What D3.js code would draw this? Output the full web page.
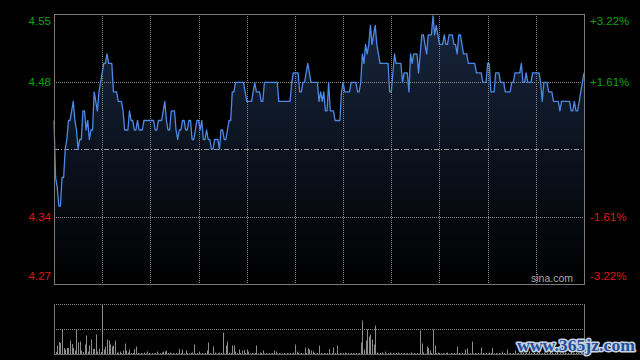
<!DOCTYPE html>
<html>
<head>
<meta charset="utf-8">
<script src="https://cdn.jsdelivr.net/npm/d3@7"></script>
<style>
  html, body { margin: 0; padding: 0; background: #000; }
  svg { display: block; }
</style>
</head>
<body>
<div id="chart"></div>
<script>
// previous close and the percent steps shown on the axes
var prevClose = 4.41;
var pctSteps = [2, 1, -1, -2];
var priceTicks = ["4.55", "4.48", "4.34", "4.27"];
var pctTicks = ["+3.22%", "+1.61%", "-1.61%", "-3.22%"];

// one price per minute, 09:30-12:00 and 13:00-16:00
var prices = [
  4.44, 4.38, 4.37, 4.35, 4.35, 4.38, 4.38, 4.41, 4.42, 4.44,
  4.44, 4.45, 4.46, 4.44, 4.43, 4.41, 4.42, 4.42, 4.45, 4.45,
  4.43, 4.44, 4.42, 4.43, 4.43, 4.47, 4.46, 4.45, 4.47, 4.48,
  4.49, 4.50, 4.50, 4.51, 4.50, 4.50, 4.50, 4.47, 4.47, 4.47,
  4.46, 4.46, 4.46, 4.45, 4.43, 4.43, 4.43, 4.45, 4.44, 4.44,
  4.43, 4.43, 4.44, 4.43, 4.43, 4.43, 4.44, 4.44, 4.44, 4.44,
  4.44, 4.44, 4.44, 4.43, 4.43, 4.44, 4.44, 4.44, 4.45, 4.46,
  4.44, 4.43, 4.43, 4.45, 4.45, 4.45, 4.43, 4.42, 4.43, 4.43,
  4.44, 4.44, 4.43, 4.43, 4.44, 4.44, 4.42, 4.42, 4.43, 4.44,
  4.44, 4.43, 4.44, 4.42, 4.42, 4.43, 4.42, 4.42, 4.41, 4.41,
  4.42, 4.42, 4.42, 4.41, 4.43, 4.43, 4.42, 4.42, 4.43, 4.44,
  4.44, 4.47, 4.47, 4.48, 4.48, 4.48, 4.48, 4.48, 4.48, 4.47,
  4.46, 4.46, 4.46, 4.46, 4.47, 4.48, 4.47, 4.47, 4.47, 4.46,
  4.46, 4.48, 4.48, 4.48, 4.48, 4.48, 4.48, 4.48, 4.48, 4.48,
  4.46, 4.46, 4.46, 4.46, 4.46, 4.46, 4.46, 4.46, 4.48, 4.49,
  4.49, 4.49, 4.49, 4.47, 4.47, 4.48, 4.48, 4.49, 4.50, 4.49,
  4.48, 4.48, 4.48, 4.48, 4.48, 4.46, 4.47, 4.46, 4.47, 4.45,
  4.45, 4.48, 4.45, 4.45, 4.45, 4.44, 4.44, 4.44, 4.44, 4.47,
  4.48, 4.47, 4.47, 4.47, 4.47, 4.48, 4.48, 4.48, 4.48, 4.47,
  4.47, 4.48, 4.51, 4.50, 4.52, 4.51, 4.52, 4.54, 4.52, 4.53,
  4.54, 4.52, 4.51, 4.50, 4.50, 4.50, 4.50, 4.50, 4.50, 4.47,
  4.47, 4.49, 4.51, 4.50, 4.50, 4.50, 4.50, 4.48, 4.49, 4.49,
  4.49, 4.47, 4.51, 4.50, 4.51, 4.51, 4.51, 4.49, 4.51, 4.53,
  4.53, 4.52, 4.51, 4.53, 4.53, 4.53, 4.55, 4.53, 4.54, 4.53,
  4.52, 4.52, 4.52, 4.53, 4.52, 4.52, 4.53, 4.53, 4.53, 4.52,
  4.52, 4.51, 4.53, 4.53, 4.52, 4.51, 4.51, 4.51, 4.50, 4.50,
  4.50, 4.50, 4.50, 4.49, 4.49, 4.49, 4.49, 4.48, 4.48, 4.48,
  4.50, 4.50, 4.47, 4.47, 4.47, 4.49, 4.49, 4.49, 4.48, 4.48,
  4.48, 4.47, 4.47, 4.47, 4.47, 4.48, 4.48, 4.49, 4.49, 4.49,
  4.49, 4.50, 4.48, 4.48, 4.49, 4.48, 4.48, 4.48, 4.49, 4.49,
  4.49, 4.49, 4.49, 4.48, 4.46, 4.48, 4.48, 4.48, 4.47, 4.47,
  4.47, 4.46, 4.46, 4.46, 4.46, 4.45, 4.46, 4.46, 4.46, 4.46,
  4.46, 4.46, 4.45, 4.45, 4.46, 4.45, 4.45, 4.46, 4.47, 4.48,
  4.49
];

// volume per minute (relative units)
var volumes = [
  100, 4, 17, 24, 22, 50, 12, 9, 12, 12,
  27, 20, 12, 7, 50, 23, 25, 7, 4, 19,
  37, 5, 17, 29, 10, 10, 39, 5, 10, 4,
  98, 9, 15, 29, 27, 19, 15, 17, 27, 3,
  3, 5, 2, 7, 21, 7, 3, 9, 2, 2,
  10, 15, 2, 1, 2, 1, 3, 1, 5, 2,
  1, 2, 1, 2, 5, 1, 2, 3, 5, 5,
  7, 2, 3, 1, 2, 1, 2, 1, 10, 2,
  9, 1, 7, 2, 1, 2, 3, 19, 1, 2,
  5, 1, 2, 1, 2, 7, 23, 2, 1, 15,
  3, 1, 2, 3, 2, 43, 1, 17, 25, 3,
  2, 17, 17, 5, 2, 9, 2, 7, 8, 2,
  9, 5, 1, 2, 1, 2, 17, 1, 3, 2,
  7, 1, 2, 1, 2, 1, 2, 7, 5, 1,
  2, 1, 1, 2, 1, 2, 1, 2, 1, 3,
  19, 5, 2, 1, 2, 1, 13, 2, 12, 9,
  7, 5, 2, 1, 2, 17, 2, 1, 2, 1,
  2, 10, 1, 2, 13, 2, 17, 1, 2, 1,
  2, 3, 1, 2, 1, 2, 2, 1, 2, 1,
  2, 23, 67, 9, 27, 49, 35, 39, 29, 19,
  57, 3, 1, 2, 3, 1, 5, 1, 2, 3,
  1, 2, 1, 2, 3, 1, 2, 1, 2, 1,
  2, 1, 3, 1, 2, 1, 2, 1, 47, 21,
  3, 1, 15, 12, 7, 2, 49, 17, 2, 3,
  2, 1, 2, 1, 2, 3, 1, 2, 1, 2,
  1, 15, 2, 1, 2, 1, 9, 11, 1, 2,
  25, 1, 2, 1, 2, 1, 13, 2, 1, 2,
  1, 3, 2, 12, 1, 2, 1, 2, 1, 5,
  2, 1, 9, 1, 2, 1, 2, 7, 1, 2,
  1, 2, 3, 1, 2, 1, 6, 2, 1, 2,
  1, 2, 5, 1, 2, 3, 1, 2, 1, 4,
  2, 1, 2, 5, 1, 2, 1, 2, 3, 1,
  2, 1, 4, 2, 1, 3, 2, 1, 5, 3,
  8
];

var W = 640, H = 360;
var plotL = 54, plotR = 584, plotT = 14, plotB = 284;
var volT = 304, volB = 354;
var font = "'Liberation Sans', Arial, sans-serif";
var green = "#0ea30e", red = "#e01414";

var svg = d3.select("#chart").append("svg")
  .attr("width", W)
  .attr("height", H)
  .style("background", "#000");

var x = d3.scaleLinear().domain([0, 330]).range([plotL, plotR]);
var y = d3.scaleLinear()
  .domain([prevClose * (1 - 0.0322), prevClose * (1 + 0.0322)])
  .range([plotB, plotT]);
var yv = d3.scaleLinear().domain([0, d3.max(volumes)]).range([volB, volT]);

// gradient under the price line
var grad = svg.append("defs").append("linearGradient")
  .attr("id", "fill")
  .attr("gradientUnits", "userSpaceOnUse")
  .attr("x1", 0).attr("y1", plotT).attr("x2", 0).attr("y2", plotB);
grad.append("stop").attr("offset", "0%").attr("stop-color", "#18263f");
grad.append("stop").attr("offset", "100%").attr("stop-color", "#000000");

var area = d3.area()
  .x(function(d, i) { return x(i); })
  .y0(plotB)
  .y1(function(d) { return y(d); });

svg.append("path")
  .datum(prices)
  .attr("d", area)
  .attr("fill", "url(#fill)");

// vertical grid every 30 minutes
var gridX = d3.range(30, 330, 30);
svg.append("g")
  .selectAll("line")
  .data(gridX)
  .enter().append("line")
  .attr("x1", function(d) { return Math.round(x(d)) + 0.5; })
  .attr("x2", function(d) { return Math.round(x(d)) + 0.5; })
  .attr("y1", plotT).attr("y2", plotB)
  .attr("stroke", "#8a8a8a")
  .attr("stroke-dasharray", "1,1");

// horizontal grid at +-1.61%
svg.append("g")
  .selectAll("line")
  .data([1, -1])
  .enter().append("line")
  .attr("x1", plotL).attr("x2", plotR)
  .attr("y1", function(d) { return Math.round(y(prevClose * (1 + d * 0.0161))) + 0.5; })
  .attr("y2", function(d) { return Math.round(y(prevClose * (1 + d * 0.0161))) + 0.5; })
  .attr("stroke", "#8a8a8a")
  .attr("stroke-dasharray", "1,1");

// previous close line
svg.append("line")
  .attr("x1", plotL).attr("x2", plotR)
  .attr("y1", Math.round(y(prevClose)) + 0.5)
  .attr("y2", Math.round(y(prevClose)) + 0.5)
  .attr("stroke", "#9a9a9a")
  .attr("stroke-dasharray", "5,2,1,2");

// price line
var line = d3.line()
  .x(function(d, i) { return x(i); })
  .y(function(d) { return y(d); });

svg.append("path")
  .datum(prices)
  .attr("d", line)
  .attr("fill", "none")
  .attr("stroke", "#4d89e6")
  .attr("stroke-width", 1.3)
  .attr("stroke-linejoin", "round");

// frame
svg.append("rect")
  .attr("x", plotL + 0.5).attr("y", plotT + 0.5)
  .attr("width", plotR - plotL).attr("height", plotB - plotT)
  .attr("fill", "none")
  .attr("stroke", "#7a7a7a");

// axes
var tickVals = pctSteps.map(function(k) { return prevClose * (1 + k * 0.0161); });

var axL = svg.append("g")
  .attr("transform", "translate(" + (plotL - 1) + ",0)")
  .call(d3.axisLeft(y).tickValues(tickVals).tickSize(0).tickPadding(2)
    .tickFormat(function(d, i) { return priceTicks[i]; }));

var axR = svg.append("g")
  .attr("transform", "translate(" + (plotR + 4) + ",0)")
  .call(d3.axisRight(y).tickValues(tickVals).tickSize(0).tickPadding(2)
    .tickFormat(function(d, i) { return pctTicks[i]; }));

[axL, axR].forEach(function(ax) {
  ax.select(".domain").remove();
  ax.selectAll("text")
    .style("font-family", font)
    .style("font-size", "11.5px")
    .attr("fill", function(d, i) { return pctSteps[i] > 0 ? green : red; })
    .attr("dy", function(d, i) {
      if (i === 0) return "0.95em";
      if (i === pctSteps.length - 1) return "-0.35em";
      return "0.32em";
    });
});

svg.append("text")
  .attr("x", plotR - 11)
  .attr("y", plotB - 2)
  .attr("text-anchor", "end")
  .style("font-family", font)
  .style("font-size", "10.5px")
  .attr("fill", "#a8a8a8")
  .text("sina.com");

// volume panel
svg.append("g")
  .selectAll("line")
  .data([volT, (volT + volB) / 2])
  .enter().append("line")
  .attr("x1", plotL).attr("x2", plotR)
  .attr("y1", function(d) { return Math.round(d) + 0.5; })
  .attr("y2", function(d) { return Math.round(d) + 0.5; })
  .attr("stroke", "#8a8a8a")
  .attr("stroke-dasharray", "1,1");

svg.append("g")
  .selectAll("rect")
  .data(volumes)
  .enter().append("rect")
  .attr("x", function(d, i) { return Math.round(x(i)); })
  .attr("width", 1)
  .attr("y", function(d) { return yv(d); })
  .attr("height", function(d) { return volB - yv(d); })
  .attr("fill", "#8c8c8c");

svg.append("line")
  .attr("x1", plotL).attr("x2", plotR)
  .attr("y1", volB + 0.5).attr("y2", volB + 0.5)
  .attr("stroke", "#6a6a6a");
svg.append("line")
  .attr("x1", plotL + 0.5).attr("x2", plotL + 0.5)
  .attr("y1", volT).attr("y2", volB)
  .attr("stroke", "#7a7a7a");
svg.append("line")
  .attr("x1", plotR + 0.5).attr("x2", plotR + 0.5)
  .attr("y1", volT).attr("y2", volB)
  .attr("stroke", "#7a7a7a");

// watermark
svg.append("text")
  .attr("x", 517)
  .attr("y", 351)
  .attr("textLength", 118)
  .attr("lengthAdjust", "spacingAndGlyphs")
  .style("font-family", "'Liberation Serif', serif")
  .style("font-weight", "bold")
  .style("font-size", "17px")
  .style("paint-order", "stroke")
  .attr("stroke", "#c9d2de")
  .attr("stroke-width", 3)
  .attr("stroke-linejoin", "round")
  .attr("fill", "#1f4f9c")
  .text("www.365jz.com");
</script>
</body>
</html>
